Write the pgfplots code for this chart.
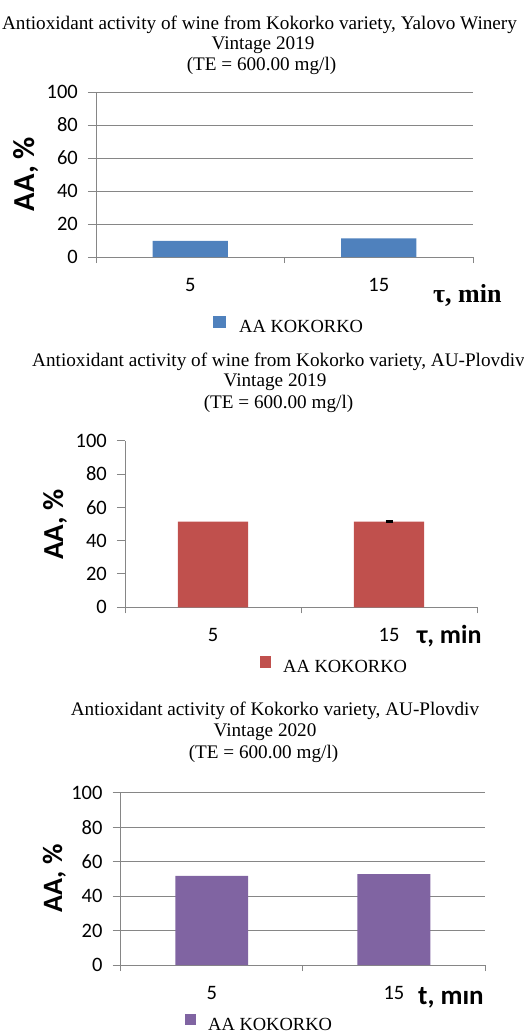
\documentclass[border=0pt]{standalone}
\usepackage{fontspec}
\setmainfont{Liberation Serif}
\newfontfamily\calib{Carlito}
\usepackage{pgfplots}
\pgfplotsset{compat=1.18}
\definecolor{c1}{HTML}{4F81BD}
\definecolor{c2}{HTML}{C0504D}
\definecolor{c3}{HTML}{8064A2}
\definecolor{axgray}{HTML}{868686}
\newcommand{\ttl}{\fontsize{19.2bp}{21bp}\selectfont}
\newcommand{\tks}{\calib\fontsize{20.5bp}{22bp}\selectfont}
\pgfplotsset{
  panel/.style={
    scale only axis,
    axis x line=bottom, axis y line=left,
    axis line style={axgray, line width=1bp, -},
    xmin=-0.5, xmax=1.5, ymin=0, ymax=100,
    xtick={0,1}, xticklabels={5,15},
    minor xtick={-0.5,0.5,1.5},
    ytick={0,20,...,100},
    major x tick style={draw=none},
    minor x tick style={axgray, line width=1bp},
    ytick style={axgray, line width=1bp},
    minor tick length=6bp,
    major tick length=8bp,
    tick align=outside,
    /pgf/number format/assume math mode=true,
    tick label style={font=\tks, inner sep=0pt},
    yticklabel style={anchor=east, xshift=-10bp},
    xticklabel style={anchor=north, yshift=-13bp},
    clip=false,
    legend style={draw=none, fill=none, inner sep=0pt, anchor=west,
      font=\fontsize{18.5bp}{22bp}\selectfont, column sep=12bp,
      nodes={inner sep=0pt}},
    xlabel style={anchor=base west, inner sep=0pt},
    ylabel style={anchor=base, inner sep=0pt, font=\calib\bfseries\fontsize{29bp}{30bp}\selectfont},
    grid style={axgray, line width=1bp},
  }
}
\begin{document}
\begin{tikzpicture}
\path[use as bounding box] (0,0) rectangle (524bp,-1035bp);
% ---------------- Panel 1 ----------------
\node[anchor=base, font=\ttl] at (259.5bp,-29bp) {Antioxidant activity of wine from Kokorko variety, Yalovo Winery};
\node[anchor=base, font=\ttl] at (263bp,-49.5bp) {Vintage 2019};
\node[anchor=base, font=\ttl] at (261.5bp,-70bp) {(TE = 600.00 mg/l)};
\begin{axis}[panel,
  at={(96bp,-257bp)}, anchor=south west, width=377bp, height=165bp,
  ymajorgrids,
  xlabel={τ, min},
  xlabel style={at={(0.8939,-0.277)}, font=\bfseries\fontsize{26bp}{30bp}\selectfont},
  ylabel={AA, \%},
  ylabel style={at={(-0.1618,0.503)}, font=\calib\bfseries\fontsize{30.5bp}{30bp}\selectfont},
  legend style={at={(0.3103,-0.4121)}, column sep=13bp},
]
\addplot[ybar, bar width=0.4, bar shift=0pt, fill=c1, draw=none,
  legend image code/.code={\fill[c1] (0bp,0bp) rectangle (13bp,12bp);}]
  coordinates {(0,9.7) (1,11.3)};
\addlegendentry{AA KOKORKO}
\end{axis}
% ---------------- Panel 2 ----------------
\node[anchor=base, font=\ttl] at (278.5bp,-366bp) {Antioxidant activity of wine from Kokorko variety, AU-Plovdiv};
\node[anchor=base, font=\ttl] at (275bp,-386.7bp) {Vintage 2019};
\node[anchor=base, font=\ttl] at (278.5bp,-408.3bp) {(TE = 600.00 mg/l)};
\begin{axis}[panel,
  at={(125bp,-607.3bp)}, anchor=south west, width=352bp, height=166.6bp,
  xlabel={τ, min},
  xlabel style={at={(0.8295,-0.2161)}, font=\calib\bfseries\fontsize{26bp}{30bp}\selectfont},
  ylabel={AA, \%},
  ylabel style={at={(-0.1761,0.497)}},
  legend style={at={(0.3835,-0.3463)}, column sep=12bp},
]
\addplot[ybar, bar width=0.4, bar shift=0pt, fill=c2, draw=none,
  legend image code/.code={\fill[c2] (0bp,0bp) rectangle (11bp,12bp);}]
  coordinates {(0,51.5) (1,51.5)};
\addlegendentry{AA KOKORKO}
\addplot[ybar, bar width=0.4, bar shift=0pt, draw=none, fill=none, forget plot,
  error bars/.cd, y dir=both, y explicit,
  error bar style={black, line width=1.5bp},
  error mark options={rotate=90, black, mark size=3.5bp, line width=1.5bp}]
  coordinates {(1,51.5) +- (0,0.4)};
\end{axis}
% ---------------- Panel 3 ----------------
\node[anchor=base, font=\ttl] at (275bp,-715bp) {Antioxidant activity of Kokorko variety, AU-Plovdiv};
\node[anchor=base, font=\ttl] at (265bp,-736.7bp) {Vintage 2020};
\node[anchor=base, font=\ttl] at (263.5bp,-758.3bp) {(TE = 600.00 mg/l)};
\begin{axis}[panel,
  at={(120.7bp,-965bp)}, anchor=south west, width=364.3bp, height=172.3bp,
  ymajorgrids,
  xlabel={t, mın},
  xlabel style={at={(0.8161,-0.2264)}, font=\calib\bfseries\fontsize{27bp}{30bp}\selectfont},
  ylabel={AA, \%},
  ylabel style={at={(-0.1611,0.502)}, font=\calib\bfseries\fontsize{28bp}{30bp}\selectfont},
  legend style={at={(0.1765,-0.3349)}, column sep=12bp},
]
\addplot[ybar, bar width=0.4, bar shift=0pt, fill=c3, draw=none,
  legend image code/.code={\fill[c3] (0bp,0bp) rectangle (11bp,11bp);}]
  coordinates {(0,51.8) (1,52.8)};
\addlegendentry{AA KOKORKO}
\end{axis}
\end{tikzpicture}
\end{document}
